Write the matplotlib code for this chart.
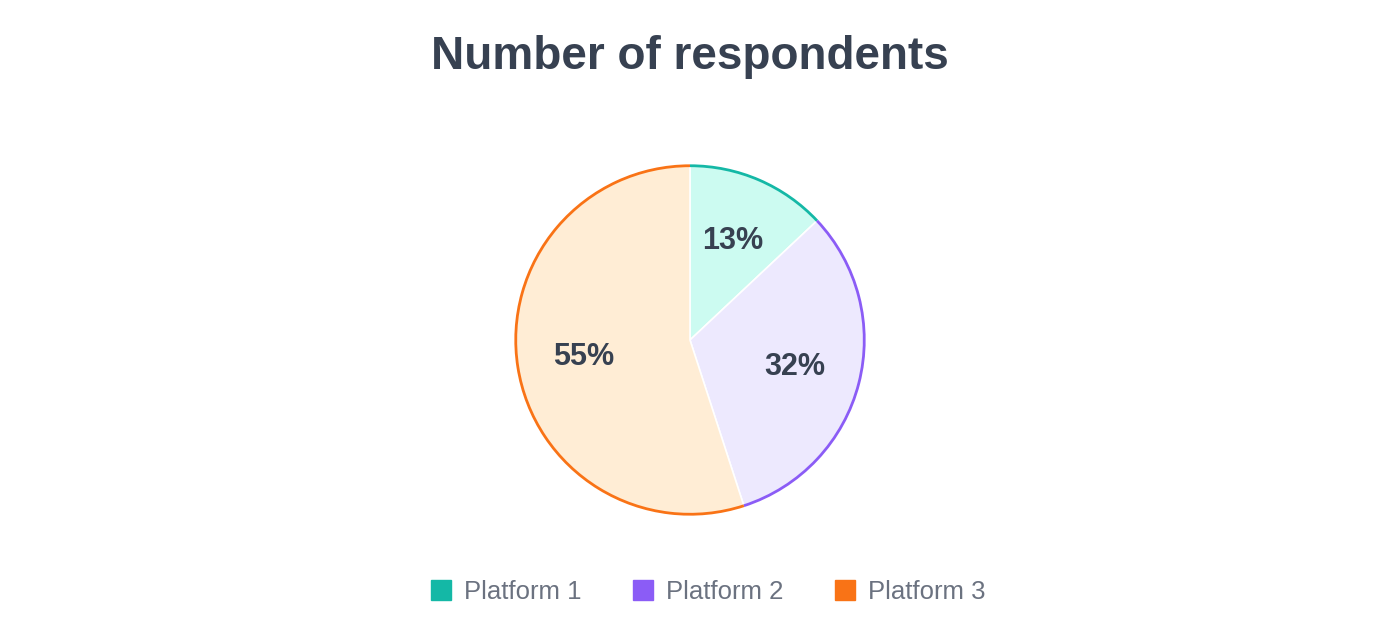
import matplotlib
matplotlib.use("Agg")
import matplotlib.pyplot as plt
from matplotlib.patches import Arc
from matplotlib.lines import Line2D

plt.rcParams['font.family'] = ['Liberation Sans', 'DejaVu Sans']

categories = ["Platform 1", "Platform 2", "Platform 3"]
values = [13, 32, 55]
line_colors = ["#14B8A6", "#8B5CF6", "#F97316"]
fill_colors = ["#CCFBF1", "#EDE9FE", "#FFEDD5"]
title = "Number of respondents"

fig = plt.figure(figsize=(13.8, 6.43), dpi=100)
fig.patch.set_facecolor("white")
ax = fig.add_axes([(690 - 176) / 1380, (643 - 516) / 643, 352 / 1380, 352 / 643])

wedges, texts, autotexts = ax.pie(
    values, colors=fill_colors, startangle=90, counterclock=False,
    autopct=lambda p: f"{p:.0f}%", pctdistance=0.62, radius=1,
    wedgeprops=dict(edgecolor="white", linewidth=1.2),
    textprops=dict(color="#374151", fontsize=22, fontweight="bold"))
for w, c in zip(wedges, line_colors):
    arc = Arc(w.center, 2 * w.r, 2 * w.r, theta1=w.theta1, theta2=w.theta2,
              color=c, linewidth=2)
    ax.add_patch(arc)
ax.set_xlim(-1.01, 1.01)
ax.set_ylim(-1.01, 1.01)
ax.set_aspect("equal")
ax.axis("off")

fig.text(0.5, 1 - 57 / 643, title, ha="center", va="center",
         fontsize=33, fontweight="bold", color="#374151")

handles = [Line2D([], [], marker="s", linestyle="none", markersize=15,
                  markerfacecolor=c, markeredgecolor=c) for c in line_colors]
leg = fig.legend(handles, categories, loc="center", bbox_to_anchor=(707 / 1380, 1 - 592 / 643),
                 ncol=3, frameon=False, fontsize=18.5, labelcolor="#6B7280",
                 handlelength=1.0, handletextpad=0.4, columnspacing=1.9)

fig.savefig("out.png", dpi=100, facecolor="white")
